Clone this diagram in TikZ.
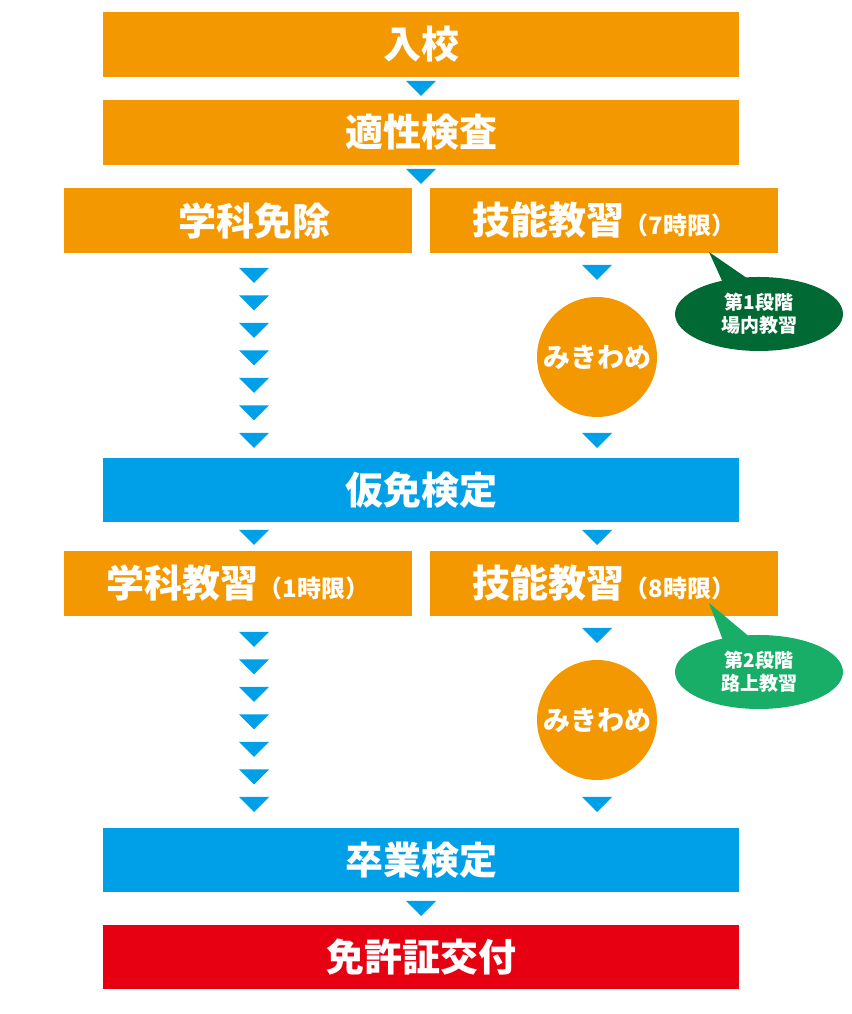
\documentclass[tikz,border=0pt]{standalone}
\usepackage{fontspec}
\newfontfamily\jpfont{Noto Sans CJK JP}
\usetikzlibrary{shapes.geometric}
\definecolor{flow-orange}{HTML}{F39800}
\definecolor{flow-blue}{HTML}{00A0E9}
\definecolor{flow-red}{HTML}{E60012}
\definecolor{flow-dgreen}{HTML}{006934}
\definecolor{flow-lgreen}{HTML}{19AE67}
% down marker between steps
\newcommand{\downmark}[2]{\fill[flow-blue] (#1-15,#2) -- (#1+15,#2) -- (#1,#2-15) -- cycle;}
\newcommand{\bigtxt}{\fontsize{38}{38}\selectfont}
\newcommand{\smltxt}{\fontsize{24}{24}\selectfont}

\begin{document}
\begin{tikzpicture}[x=1pt, y=1pt,
        every node/.style={font=\jpfont\bfseries, text=white, inner sep=0pt},
        widebox/.style={rectangle, minimum width=636pt, minimum height=65pt},
        halfbox/.style={rectangle, fill=flow-orange, minimum width=348pt, minimum height=65pt},
        checkball/.style={circle, fill=flow-orange, minimum size=120pt,
            font=\jpfont\bfseries\fontsize{27}{27}\selectfont},
        stagetag/.style={ellipse, minimum width=168pt, minimum height=74pt, align=center,
            font=\jpfont\bfseries\fontsize{19}{23}\selectfont}]
      \useasboundingbox (0,0) rectangle (851,1014);
      % main steps
      \node[widebox, fill=flow-orange] (nyuko) at (421,969.5) {\bigtxt 入校};
      \node[widebox, fill=flow-orange] (tekisei) at (421,881.5) {\bigtxt 適性検査};
      \node[halfbox] (menjo) at (238,793.5) {};
      \node (menjotxt) at (254,793.5) {\bigtxt 学科免除};
      \node[halfbox] (gino1) at (604,793.5) {\bigtxt 技能教習\smltxt （7時限）};
      \node[widebox, fill=flow-blue, minimum height=64pt] (karimen) at (421,524) {\bigtxt 仮免検定};
      \node[halfbox] (gakka) at (238,430.5) {\bigtxt 学科教習\smltxt （1時限）};
      \node[halfbox] (gino2) at (604,430.5) {\bigtxt 技能教習\smltxt （8時限）};
      \node[widebox, fill=flow-blue, minimum height=64pt] (sotsu) at (421,154) {\bigtxt 卒業検定};
      \node[widebox, fill=flow-red, minimum height=64pt] (menkyo) at (421,57) {\bigtxt 免許証交付};
      % checks
      \node[checkball] (mikiwame1) at (597,657) {みきわめ};
      \node[checkball] (mikiwame2) at (597,294) {みきわめ};
      % stage callouts
      \coordinate (tip1) at (709,762);
      \coordinate (tip2) at (709,411);
      \fill[flow-dgreen] (tip1) -- (728,720) -- (770,720) -- cycle;
      \node[stagetag, fill=flow-dgreen] (stage1) at (759,700) {第1段階\\場内教習};
      \fill[flow-lgreen] (tip2) -- (728,360) -- (770,360) -- cycle;
      \node[stagetag, fill=flow-lgreen] (stage2) at (759,342) {第2段階\\路上教習};
      % markers
      \downmark{421}{933}
      \downmark{421}{845}
      \foreach \yy in {746,718.5,691,663.5,636,608.5,581}
        {\downmark{254}{\yy}}
      \downmark{597}{749}
      \downmark{597}{581}
      \downmark{254}{484}
      \downmark{597}{484}
      \foreach \yy in {382,354.5,327,299.5,272,244.5,217}
        {\downmark{254}{\yy}}
      \downmark{597}{386}
      \downmark{597}{217}
      \downmark{421}{113}
    \end{tikzpicture}
\end{document}
